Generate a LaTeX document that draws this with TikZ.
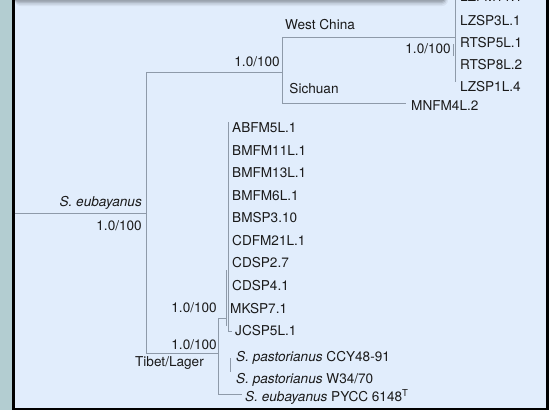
\documentclass[tikz,border=0pt]{standalone}
\usepackage{fontspec}
\setmainfont{TeX Gyre Heros}
\definecolor{bg}{HTML}{E1EDFC}
\definecolor{strip}{HTML}{B3CDD1}
\definecolor{brc}{HTML}{8E9AA9}
\definecolor{tx}{HTML}{1A1A1A}
\begin{document}
\begin{tikzpicture}[x=1pt,y=-1pt,
  tip/.style={anchor=base west,inner sep=0pt,text=tx,font=\fontsize{13.6}{15}\selectfont},
  lbl/.style={anchor=base east,inner sep=0pt,text=tx,font=\fontsize{13.6}{15}\selectfont},
  clade/.style={anchor=base,inner sep=0pt,text=tx,font=\fontsize{13.6}{15}\selectfont},
  branch/.style={draw=brc,line width=0.8pt}]
\useasboundingbox (0,0) rectangle (549,410);
% frame and background
\fill[strip] (0,0) rectangle (549,410);
\fill[bg] (14,-2) rectangle (546,407.5);
\fill[black] (12,-2) rectangle (14.5,410);
\fill[black] (546,-2) rectangle (549,410);
\fill[black] (12,407.5) rectangle (549,410);
% shadow of the box above
\fill[black,opacity=0.05,rounded corners=6pt] (14.5,-12) rectangle (448,6);
\fill[black,opacity=0.07,rounded corners=5pt] (14.5,-12) rectangle (447,4.5);
\fill[black,opacity=0.10,rounded corners=4pt] (14.5,-12) rectangle (446,3);
\fill[black,opacity=0.12,rounded corners=3pt] (14.5,-12) rectangle (445,1.5);

% tree coordinates
\coordinate (root) at (14.5,213);
\coordinate (r) at (146,213);
\coordinate (rtop) at (146,72);
\coordinate (rbot) at (146,353);
\coordinate (wc) at (282,72);
\coordinate (wctop) at (282,37);
\coordinate (wcbot) at (282,103);
\coordinate (poly) at (455,37);
\coordinate (polytop) at (455,-5);
\coordinate (polybot) at (455,82);
\coordinate (sub1) at (453,44);
\coordinate (sub2) at (453,56);
\coordinate (sich) at (406,103);
\coordinate (tl) at (218,353);
\coordinate (tltop) at (218,318);
\coordinate (tlbot) at (218,394);
\coordinate (pycc) at (242,394);
\coordinate (in) at (226,318);
\coordinate (intop) at (226,270);
\coordinate (inbot) at (226,326);
\coordinate (chtop) at (228.5,122);
\coordinate (chbot) at (228.5,331);
\coordinate (jc) at (232,331);
\coordinate (pstop) at (230,358);
\coordinate (psbot) at (230,372);

\draw[branch] (root) -- (r);
\draw[branch] (rtop) -- (rbot);
\draw[branch] (rtop) -- (wc);
\draw[branch] (wctop) -- (wcbot);
\draw[branch] (wctop) -- (poly);
\draw[branch] (polytop) -- (polybot);
\draw[branch] (sub1) -- (sub2);
\draw[branch] (wcbot) -- (sich);
\draw[branch] (rbot) -- (tl);
\draw[branch] (tltop) -- (tlbot);
\draw[branch] (tlbot) -- (pycc);
\draw[branch] (tltop) -- (in);
\draw[branch] (intop) -- (inbot);
\draw[branch] (chtop) -- (chbot) -- (jc);
\draw[branch] (pstop) -- (psbot);

% tip labels
\node[tip] (t0) at (460,1.9) {LZFM11.1};
\node[tip] (t1) at (460,25.4) {LZSP3L.1};
\node[tip] (t2) at (460,47.4) {RTSP5L.1};
\node[tip] (t3) at (460,69.4) {RTSP8L.2};
\node[tip] (t4) at (460,91.4) {LZSP1L.4};
\node[tip] (t5) at (411,110.9) {MNFM4L.2};
\node[tip] (t6) at (232,132.9) {ABFM5L.1};
\node[tip] (t7) at (232,155.4) {BMFM11L.1};
\node[tip] (t8) at (232,177.9) {BMFM13L.1};
\node[tip] (t9) at (232,200.4) {BMFM6L.1};
\node[tip] (t10) at (232,222.9) {BMSP3.10};
\node[tip] (t11) at (232,245.4) {CDFM21L.1};
\node[tip] (t12) at (232,267.9) {CDSP2.7};
\node[tip] (t13) at (232,290.9) {CDSP4.1};
\node[tip] (t14) at (230,313.4) {MKSP7.1};
\node[tip] (t15) at (235,335.9) {JCSP5L.1};
\node[tip] (t16) at (236,361.9) {\itshape S. pastorianus\upshape\ CCY48-91};
\node[tip] (t17) at (236,383.9) {\itshape S. pastorianus\upshape\ W34/70};
\node[tip] (t18) at (245,401.9) {\itshape S. eubayanus\upshape\ PYCC 6148\textsuperscript{T}};

% clade and support labels
\node[clade] (westchina) at (320,29.9) {West China};
\node[clade] (sichuan) at (314,93.9) {Sichuan};
\node[lbl] (s1) at (451,53.9) {1.0/100};
\node[lbl] (s2) at (280,66.9) {1.0/100};
\node[lbl] (eub) at (142,206.9) {\itshape S. eubayanus};
\node[lbl] (s3) at (142,230.9) {1.0/100};
\node[lbl] (s4) at (217,312.9) {1.0/100};
\node[lbl] (s5) at (217,349.9) {1.0/100};
\node[lbl] (tibet) at (204,366.9) {Tibet/Lager};
\end{tikzpicture}
\end{document}
